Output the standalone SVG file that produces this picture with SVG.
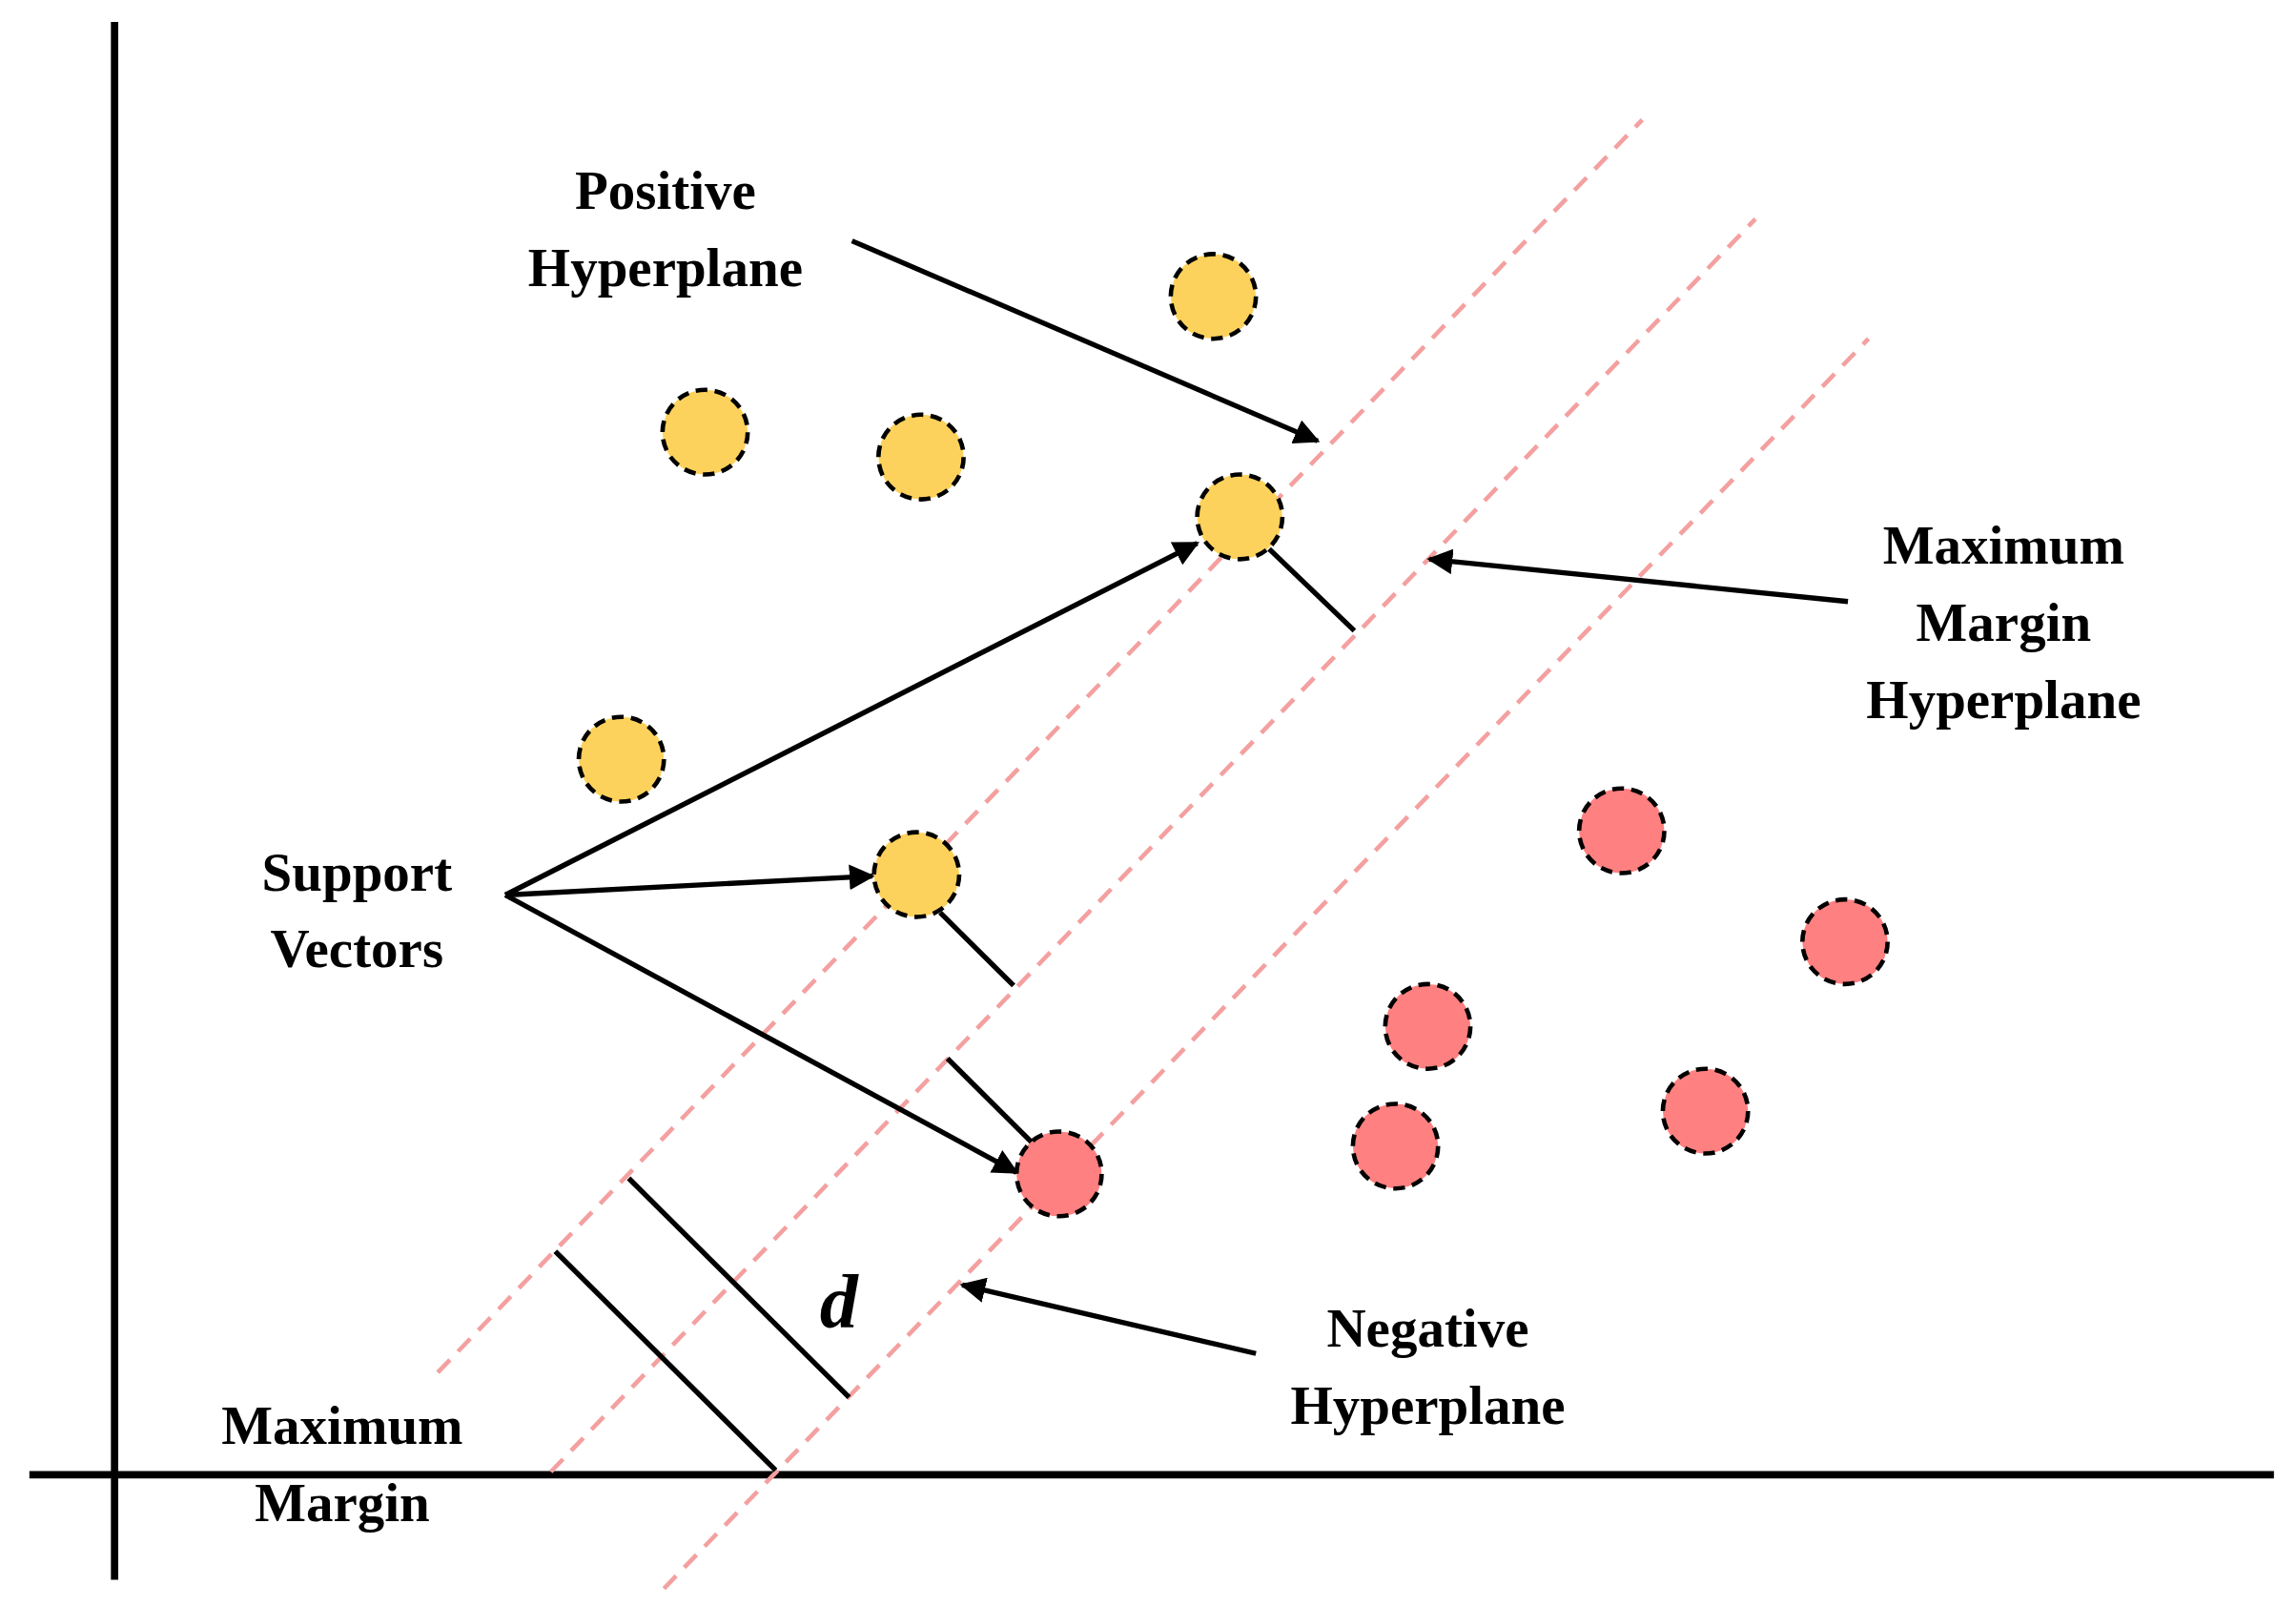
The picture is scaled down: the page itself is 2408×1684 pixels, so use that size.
<svg xmlns="http://www.w3.org/2000/svg" width="2408" height="1684" viewBox="0 0 2408 1684">
<style>
.t{font-family:"Liberation Serif","Times New Roman",serif;font-weight:bold;font-size:37px;text-anchor:middle;fill:#000}
.ax{stroke:#000;stroke-width:5}
.hp{stroke:#F4A0A0;stroke-width:3;stroke-dasharray:12 8}
.seg{stroke:#000;stroke-width:3.5}
.ar{stroke:#000;stroke-width:3.5;marker-end:url(#ah)}
.y{fill:#FDD25C;stroke:#000;stroke-width:3;stroke-dasharray:8 5}
.r{fill:#FF8080;stroke:#000;stroke-width:3;stroke-dasharray:8 5}
</style>
<defs><marker id="ah" viewBox="0 0 10 10" refX="9" refY="5" markerWidth="5" markerHeight="5" orient="auto" markerUnits="strokeWidth"><path d="M0,0 L10,5 L0,10 z" fill="#000"/></marker></defs>
<rect width="2408" height="1684" fill="#fff"/>
<g transform="scale(1.5406,1.531)">
<g id="axes"><line class="ax" x1="78" y1="15" x2="78" y2="1082"/><line class="ax" x1="20" y1="1010" x2="1548" y2="1010"/></g>
<g id="hyperplanes"><line class="hp" x1="298" y1="940" x2="1118" y2="82"/><line class="hp" x1="375" y1="1008" x2="1195" y2="150"/><line class="hp" x1="452" y1="1088" x2="1272" y2="232"/></g>
<g id="connectors">
<line class="seg" x1="864" y1="376" x2="922" y2="432"/>
<line class="seg" x1="640" y1="625" x2="690" y2="675"/>
<line class="seg" x1="645" y1="725" x2="705" y2="785"/>
<line class="seg" x1="428" y1="807" x2="578" y2="957"/>
<line class="seg" x1="378" y1="857" x2="528" y2="1007"/>
<line class="ar" x1="580" y1="165" x2="897" y2="302"/>
<line class="ar" x1="344" y1="613" x2="815" y2="372"/>
<line class="ar" x1="344" y1="613" x2="594" y2="600"/>
<line class="ar" x1="344" y1="613" x2="692" y2="803"/>
<line class="ar" x1="1258" y1="412" x2="973" y2="383"/>
<line class="ar" x1="855" y1="927" x2="655" y2="880"/>
</g>
<g id="positive">
<circle class="y" cx="826" cy="203" r="29"/><circle class="y" cx="480" cy="296" r="29"/><circle class="y" cx="627" cy="313" r="29"/><circle class="y" cx="844" cy="354" r="29"/><circle class="y" cx="423" cy="520" r="29"/><circle class="y" cx="624" cy="599" r="29"/>
</g>
<g id="negative">
<circle class="r" cx="1104" cy="569" r="29"/><circle class="r" cx="1256" cy="645" r="29"/><circle class="r" cx="972" cy="703" r="29"/><circle class="r" cx="950" cy="785" r="29"/><circle class="r" cx="1161" cy="761" r="29"/><circle class="r" cx="721" cy="804" r="29"/>
</g>
<g id="labels">
<text class="t" x="453" y="143">Positive</text><text class="t" x="453" y="196">Hyperplane</text>
<text class="t" x="1364" y="386">Maximum</text><text class="t" x="1364" y="439">Margin</text><text class="t" x="1364" y="492">Hyperplane</text>
<text class="t" x="243" y="610">Support</text><text class="t" x="243" y="662">Vectors</text>
<text class="t" x="972" y="922">Negative</text><text class="t" x="972" y="975">Hyperplane</text>
<text class="t" x="233" y="989">Maximum</text><text class="t" x="233" y="1042">Margin</text>
<text class="t" x="571" y="909" style="font-style:italic;font-size:52px">d</text>
</g>
</g>
</svg>
